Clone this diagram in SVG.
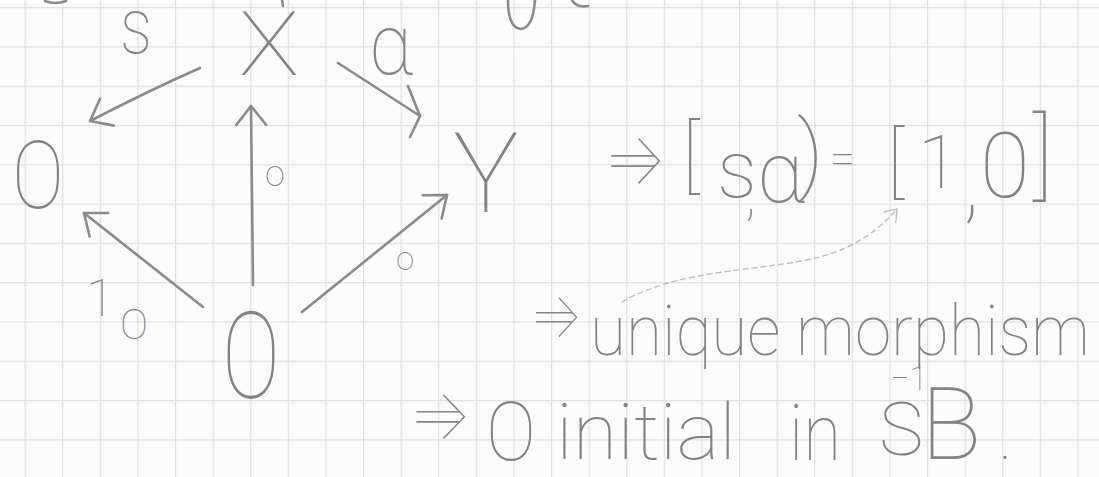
<svg xmlns="http://www.w3.org/2000/svg" width="1099" height="477" viewBox="0 0 1099 477">
  <defs>
    <pattern id="grid" x="24.6" y="7" width="37.6" height="39.3" patternUnits="userSpaceOnUse">
      <path d="M0,0.6 H37.6 M0.6,0 V39.3" stroke="#e0e0e0" stroke-width="1.2" fill="none"/>
    </pattern>
    <marker id="ah" viewBox="-24 -20 28 40" refX="0" refY="0" markerWidth="28" markerHeight="40" markerUnits="userSpaceOnUse" orient="auto">
      <path d="M-19,-15 L0,0 L-19,15" fill="none" stroke="#8b8b8b" stroke-width="2.6" stroke-linecap="round" stroke-linejoin="round"/>
    </marker>
    <marker id="ahs" viewBox="-14 -10 16 20" refX="0" refY="0" markerWidth="16" markerHeight="20" markerUnits="userSpaceOnUse" orient="auto">
      <path d="M-11,-8 L0,0 L-11,8" fill="none" stroke="#bcbcbc" stroke-width="1.3" stroke-linecap="round"/>
    </marker>
  </defs>
  <style>
    .pen { fill: none; stroke: #8b8b8b; stroke-width: 2.6; stroke-linecap: round; stroke-linejoin: round; }
    .faint { fill: none; stroke: #bcbcbc; stroke-width: 1.3; stroke-dasharray: 5 4; stroke-linecap: round; }
    .hw { font-family: Roboto, "Liberation Sans", sans-serif; font-weight: 100; fill: #838383; }
    .ar { font-family: "Noto Sans", Inter, "DejaVu Sans", sans-serif; font-weight: 100; fill: #878787; }
  </style>

  <rect width="1099" height="477" fill="#fcfcfc"/>
  <rect width="1099" height="477" fill="url(#grid)"/>

  <!-- cut-off strokes from the previous line -->
  <g id="fragments" class="pen" stroke-width="2">
    <path d="M45,1 Q55,5 66,1"/>
    <path d="M282,0 L283,6"/>
    <path d="M508,0 Q508,28 521,29 Q533,28 535,0"/>
    <path d="M572,0 Q576,8 588,6"/>
  </g>

  <g id="connectors">
    <path class="pen" d="M200,68 Q150,90 90,121" marker-end="url(#ah)"/>
    <path class="pen" d="M253,285 L251,106" marker-end="url(#ah)"/>
    <path class="pen" d="M338,63 L420,116"/>
    <path class="pen" d="M408,86 L420,116 L410,137"/>
    <path class="pen" d="M203,307 L84,213" marker-end="url(#ah)"/>
    <path class="pen" d="M302,312 L447,195" marker-end="url(#ah)"/>
    <path class="faint" d="M622,302 C680,268 760,272 820,257 C860,246 882,226 897,209" marker-end="url(#ahs)"/>
  </g>

  <g id="node-O-left"><text class="hw" x="12" y="208" font-size="95" textLength="52" lengthAdjust="spacingAndGlyphs">O</text></g>
  <g id="node-X"><text class="hw" x="239" y="75" font-size="89" textLength="60" lengthAdjust="spacingAndGlyphs">X</text></g>
  <g id="node-Y"><text class="hw" x="453" y="212" font-size="111" textLength="66" lengthAdjust="spacingAndGlyphs">Y</text></g>
  <g id="node-O-bottom"><text class="hw" x="222" y="398" font-size="121" textLength="58" lengthAdjust="spacingAndGlyphs">O</text></g>

  <g id="labels">
    <text class="hw" x="120" y="53" font-size="78" textLength="32" lengthAdjust="spacingAndGlyphs">s</text>
    <text class="hw" x="369" y="74" font-size="85" textLength="44" lengthAdjust="spacingAndGlyphs">α</text>
    <text class="hw" x="265" y="186" font-size="36">o</text>
    <text class="hw" x="396" y="270" font-size="33">o</text>
    <text class="hw"><tspan x="86" y="316" font-size="52">1</tspan><tspan x="120" y="339" font-size="42">O</tspan></text>
  </g>

  <g id="line1">
    <text class="ar" x="603" y="184" font-size="72" textLength="64" lengthAdjust="spacingAndGlyphs">⇒</text>
    <text class="hw">
      <tspan x="682" y="183" font-size="80">[</tspan>
      <tspan x="717" y="197" font-size="80">s</tspan>
      <tspan x="745" y="214" font-size="60">,</tspan>
      <tspan x="757" y="202" font-size="85">α</tspan>
      <tspan x="797" y="183" font-size="88">)</tspan>
      <tspan x="830" y="174" font-size="45">=</tspan>
      <tspan x="887" y="188" font-size="78">[</tspan>
      <tspan x="918" y="188" font-size="75">1</tspan>
      <tspan x="963" y="212" font-size="90">,</tspan>
      <tspan x="980" y="197" font-size="91">0</tspan>
      <tspan x="1033" y="188" font-size="95">]</tspan>
    </text>
  </g>

  <g id="line2">
    <text class="ar" x="529" y="337" font-size="62" textLength="54" lengthAdjust="spacingAndGlyphs">⇒</text>
    <text class="hw" x="590" y="355" font-size="70" textLength="500" lengthAdjust="spacingAndGlyphs">unique morphism</text>
  </g>

  <g id="line3">
    <text class="ar" x="408" y="439" font-size="70" textLength="64" lengthAdjust="spacingAndGlyphs">⇒</text>
    <text class="hw" x="486" y="460" font-size="82" textLength="50" lengthAdjust="spacingAndGlyphs">O</text>
    <text class="hw" x="556" y="459" font-size="78" textLength="180" lengthAdjust="spacingAndGlyphs">initial</text>
    <text class="hw" x="789" y="460" font-size="78" textLength="52" lengthAdjust="spacingAndGlyphs">in</text>
    <text class="hw"><tspan x="879" y="455" font-size="75">S</tspan><tspan x="890" y="390" font-size="34">−1</tspan><tspan x="921" y="459" font-size="100">B</tspan><tspan x="999" y="459" font-size="60">.</tspan></text>
  </g>
</svg>
